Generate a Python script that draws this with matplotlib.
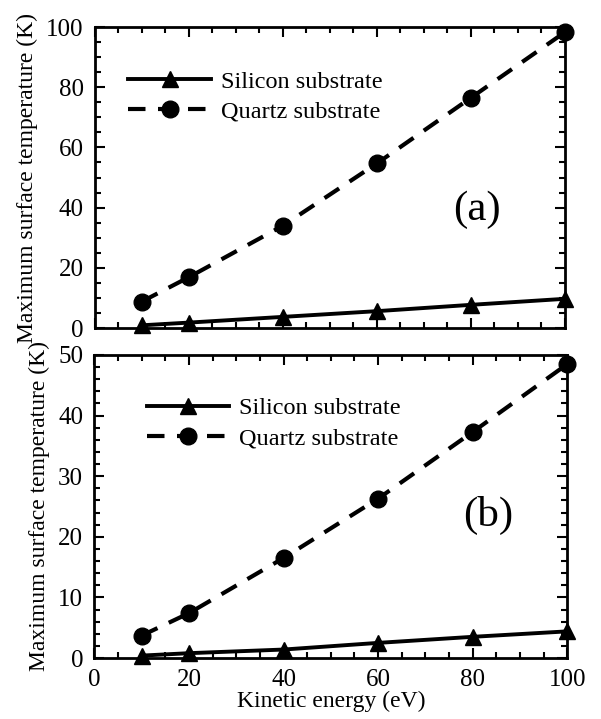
import numpy as np
import matplotlib
matplotlib.use('Agg')
import matplotlib.pyplot as plt
from matplotlib.ticker import MultipleLocator

plt.rcParams['font.family'] = ['Liberation Serif', 'DejaVu Serif']
plt.rcParams['font.size'] = 17

# data
energy = [10, 20, 40, 60, 80, 100]
si_a = [0.9, 1.8, 3.7, 5.6, 7.7, 9.7]
qz_a = [8.8, 16.9, 34.0, 54.7, 76.5, 98.3]
si_b = [0.4, 0.8, 1.4, 2.5, 3.5, 4.4]
qz_b = [3.7, 7.4, 16.5, 26.3, 37.3, 48.5]

labels = ['Silicon substrate', 'Quartz substrate']
ylabel = 'Maximum surface temperature (K)'
xlabel = 'Kinetic energy (eV)'

fig = plt.figure(figsize=(6.01, 7.19), dpi=100)
ax1 = fig.add_axes([0.158, 0.5438, 0.782, 0.4186])
ax2 = fig.add_axes([0.157, 0.0848, 0.787, 0.4215])


def style(ax, ymax, ymaj, ymin):
    ax.set_xlim(0, 100)
    ax.set_ylim(0, ymax)
    ax.xaxis.set_major_locator(MultipleLocator(20))
    ax.xaxis.set_minor_locator(MultipleLocator(5))
    ax.yaxis.set_major_locator(MultipleLocator(ymaj))
    ax.yaxis.set_minor_locator(MultipleLocator(ymin))
    ax.tick_params(which='both', direction='in', top=True, right=True, width=1.5)
    ax.tick_params(which='major', length=7, pad=8, labelsize=18)
    ax.tick_params(which='minor', length=4)
    for s in ax.spines.values():
        s.set_linewidth(2.0)
    ax.set_ylabel(ylabel, labelpad=6)


def draw(ax, si, qz, anchor):
    ax.plot(energy, si, '-', color='black', lw=2.8, marker='^', ms=12,
            label=labels[0], clip_on=False)
    ax.plot(energy, qz, '--', color='black', lw=3.0, marker='o', ms=12,
            dashes=(4.2, 3.0), label=labels[1], clip_on=False)
    ax.legend(loc='upper left', bbox_to_anchor=anchor, frameon=False,
              borderpad=0, borderaxespad=0, handlelength=3.4,
              handletextpad=0.4, labelspacing=0.32, fontsize=17.5)


draw(ax1, si_a, qz_a, (0.071, 0.855))
style(ax1, 100, 20, 5)
ax1.tick_params(labelbottom=False)
ax1.text(0.813, 0.392, '(a)', transform=ax1.transAxes, fontsize=31,
         ha='center', va='center')

draw(ax2, si_b, qz_b, (0.111, 0.86))
style(ax2, 50, 10, 2)
ax2.set_xlabel(xlabel, labelpad=0)
ax2.text(0.833, 0.472, '(b)', transform=ax2.transAxes, fontsize=31,
         ha='center', va='center')

fig.savefig('out.png', dpi=100)
